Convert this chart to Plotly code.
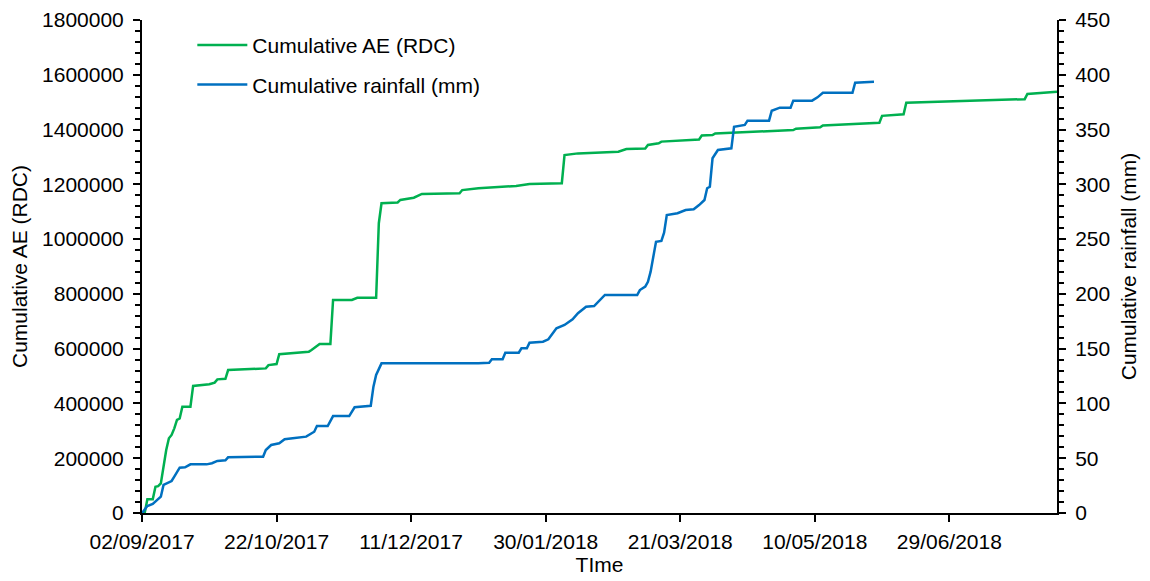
import plotly.graph_objects as go

# Cumulative AE (RDC) — left axis
ae_dates = [
    "2017-09-02", "2017-09-03", "2017-09-04", "2017-09-06", "2017-09-07", "2017-09-08",
    "2017-09-09", "2017-09-10", "2017-09-11", "2017-09-12", "2017-09-13", "2017-09-14",
    "2017-09-15", "2017-09-16", "2017-09-17", "2017-09-20", "2017-09-21", "2017-09-27",
    "2017-09-29", "2017-09-30", "2017-10-03", "2017-10-04", "2017-10-18", "2017-10-19",
    "2017-10-22", "2017-10-23", "2017-10-26", "2017-11-03", "2017-11-04", "2017-11-07",
    "2017-11-11", "2017-11-12", "2017-11-19", "2017-11-21", "2017-11-28", "2017-11-29",
    "2017-11-30", "2017-12-06", "2017-12-07", "2017-12-12", "2017-12-15", "2017-12-29",
    "2017-12-30", "2018-01-05", "2018-01-19", "2018-01-24", "2018-02-05", "2018-02-06",
    "2018-02-11", "2018-02-26", "2018-03-01", "2018-03-08", "2018-03-09", "2018-03-13",
    "2018-03-14", "2018-03-28", "2018-03-29", "2018-04-02", "2018-04-03", "2018-05-02",
    "2018-05-03", "2018-05-12", "2018-05-13", "2018-05-26", "2018-06-03", "2018-06-04",
    "2018-06-12", "2018-06-13", "2018-06-28", "2018-07-27", "2018-07-28", "2018-08-08",
]
ae_values = [
    0, 0, 50000, 50000, 96000, 98000,
    108000, 169000, 230000, 273000, 285000, 309000,
    340000, 345000, 388000, 388000, 464000, 470000,
    476000, 488000, 490000, 522000, 528000, 540000,
    544000, 580000, 583000, 589000, 595000, 617000,
    617000, 778000, 778000, 786000, 786000, 1058000,
    1131000, 1134000, 1143000, 1151000, 1165000, 1167000,
    1179000, 1186000, 1194000, 1201000, 1204000, 1307000,
    1313000, 1319000, 1329000, 1331000, 1344000, 1350000,
    1356000, 1364000, 1378000, 1380000, 1386000, 1398000,
    1403000, 1408000, 1415000, 1420000, 1425000, 1450000,
    1456000, 1498000, 1502000, 1511000, 1530000, 1538000,
]

# Cumulative rainfall (mm) — right axis
rain_dates = [
    "2017-09-02", "2017-09-04", "2017-09-06", "2017-09-09", "2017-09-10", "2017-09-13",
    "2017-09-14", "2017-09-16", "2017-09-18", "2017-09-20", "2017-09-26", "2017-09-28",
    "2017-09-30", "2017-10-03", "2017-10-04", "2017-10-17", "2017-10-18", "2017-10-20",
    "2017-10-23", "2017-10-25", "2017-10-28", "2017-11-02", "2017-11-05", "2017-11-06",
    "2017-11-10", "2017-11-12", "2017-11-18", "2017-11-20", "2017-11-26", "2017-11-27",
    "2017-11-28", "2017-11-30", "2018-01-05", "2018-01-09", "2018-01-10", "2018-01-14",
    "2018-01-15", "2018-01-20", "2018-01-21", "2018-01-23", "2018-01-24", "2018-01-29",
    "2018-01-31", "2018-02-03", "2018-02-06", "2018-02-07", "2018-02-09", "2018-02-11",
    "2018-02-14", "2018-02-17", "2018-02-19", "2018-02-21", "2018-03-05", "2018-03-06",
    "2018-03-08", "2018-03-09", "2018-03-10", "2018-03-12", "2018-03-14", "2018-03-15",
    "2018-03-16", "2018-03-20", "2018-03-23", "2018-03-26", "2018-03-28", "2018-03-30",
    "2018-03-31", "2018-04-01", "2018-04-02", "2018-04-04", "2018-04-09", "2018-04-10",
    "2018-04-14", "2018-04-15", "2018-04-23", "2018-04-24", "2018-04-27", "2018-05-01",
    "2018-05-02", "2018-05-09", "2018-05-11", "2018-05-13", "2018-05-24", "2018-05-25",
    "2018-06-01",
]
rain_values = [
    0, 6.4, 8.2, 14.9, 25.6, 29.2,
    33.2, 41.4, 41.7, 44.4, 44.4, 45.4,
    47.5, 48.1, 50.8, 51.4, 57.5, 62.1,
    63.6, 67.3, 68.2, 69.7, 74.2, 79.4,
    79.4, 88.5, 88.5, 96.5, 97.9, 115.3,
    126.0, 136.6, 136.6, 137.2, 140.3, 140.3,
    146.3, 146.3, 150.3, 150.3, 155.5, 156.4,
    158.5, 168.6, 171.6, 173.1, 176.8, 182.3,
    188.3, 188.9, 194.4, 199.0, 199.0, 203.5,
    206.6, 211.1, 220.3, 247.6, 248.3, 255.9,
    272.0, 273.6, 276.6, 277.2, 281.1, 285.7,
    296.4, 297.8, 323.8, 331.3, 332.9, 352.6,
    354.2, 358.1, 358.1, 367.2, 370.0, 370.0,
    376.4, 376.4, 379.4, 383.6, 383.6, 392.8,
    393.7,
]

x_start = "2017-09-02"
x_end = "2018-08-08"
x_tick_days = 50

FONT = "Liberation Sans, Arial, sans-serif"
FS = 21

fig = go.Figure()
fig.add_trace(go.Scatter(
    x=ae_dates, y=ae_values, mode="lines", name="Cumulative AE (RDC)",
    line=dict(color="#00B050", width=2.5), legendgroup="a", yaxis="y",
))
fig.add_trace(go.Scatter(
    x=rain_dates, y=rain_values, mode="lines", name="Cumulative rainfall (mm)",
    line=dict(color="#0070C0", width=2.5), legendgroup="b", yaxis="y2",
))

axis_common = dict(
    showgrid=False, zeroline=False, showline=True, linecolor="black", linewidth=2,
    ticks="outside", tickcolor="black", tickwidth=2, ticklen=7,
    tickfont=dict(family=FONT, size=FS, color="black"),
    automargin=False,
)

fig.update_layout(
    width=1142, height=573,
    margin=dict(l=134, r=93, t=12, b=68),
    paper_bgcolor="white", plot_bgcolor="white",
    font=dict(family=FONT, size=FS, color="black"),
    showlegend=True,
    legend=dict(
        x=0.055, y=0.99, xanchor="left", yanchor="top",
        bgcolor="rgba(0,0,0,0)", font=dict(family=FONT, size=FS, color="black"),
        tracegroupgap=9, itemwidth=50,
    ),
    xaxis=dict(
        **axis_common,
        type="date", range=[x_start, x_end],
        tick0=x_start, dtick=x_tick_days * 86400000, tickformat="%d/%m/%Y",
        ticklabelstandoff=2,
        title=dict(text="TIme", font=dict(family=FONT, size=FS, color="black"), standoff=4),
    ),
    yaxis=dict(
        **axis_common,
        range=[0, 1800000], dtick=200000, tickformat="d",
        ticklabelstandoff=5,
        minor=dict(dtick=40000, ticks="outside", ticklen=5, tickcolor="black", tickwidth=1.5),
        title=dict(text="Cumulative AE (RDC)", font=dict(family=FONT, size=FS, color="black"), standoff=12),
    ),
    yaxis2=dict(
        **axis_common,
        overlaying="y", side="right",
        range=[0, 450], dtick=50,
        ticklabelstandoff=5,
        minor=dict(dtick=10, ticks="outside", ticklen=5, tickcolor="black", tickwidth=1.5),
        title=dict(text="Cumulative rainfall (mm)", font=dict(family=FONT, size=FS, color="black"), standoff=12),
    ),
)

fig.write_html("out.html")
